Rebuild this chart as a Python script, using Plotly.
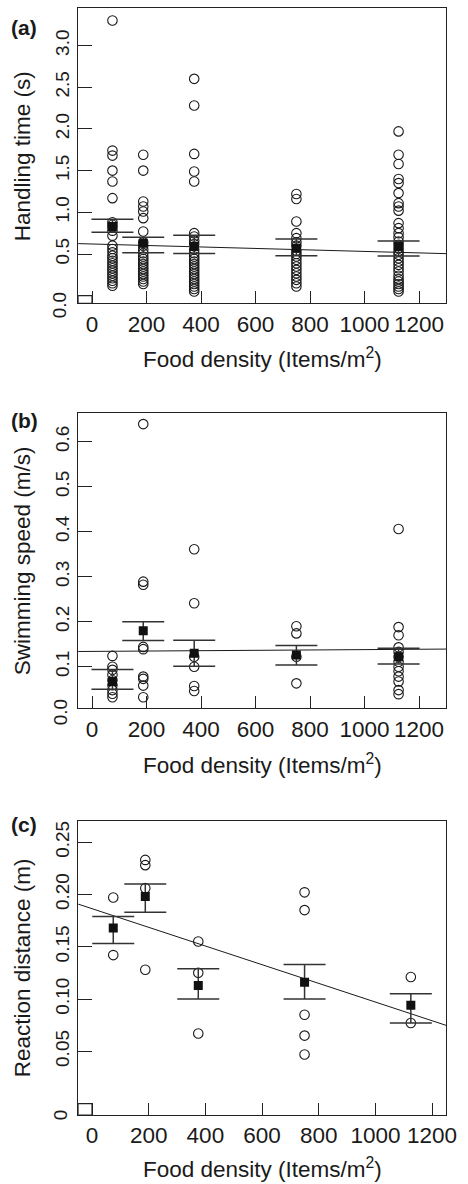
import plotly.graph_objects as go

# ---------------- data ----------------
densities = [75, 188, 375, 750, 1125]
tick_x = [0, 200, 400, 600, 800, 1000, 1200]

# (a) handling time (s)
ht_75 = [3.30, 1.74, 1.68, 1.50, 1.37, 1.17, 0.88, 0.85, 0.82, 0.78, 0.72, 0.60, 0.56, 0.52, 0.48,
         0.45, 0.42, 0.39, 0.36, 0.33, 0.30, 0.27, 0.24, 0.21, 0.18, 0.15, 0.12]
ht_188 = [1.69, 1.50, 1.13, 1.07, 1.01, 0.93, 0.77, 0.64, 0.60, 0.55, 0.51, 0.47, 0.44, 0.41, 0.38,
          0.35, 0.32, 0.29, 0.26, 0.23, 0.20, 0.17, 0.14]
ht_375 = [2.60, 2.28, 1.70, 1.49, 1.37, 0.75, 0.71, 0.66, 0.62, 0.55, 0.51, 0.47, 0.44, 0.41, 0.38,
          0.35, 0.32, 0.29, 0.26, 0.23, 0.20, 0.17, 0.14, 0.11, 0.08, 0.05]
ht_750 = [1.22, 1.16, 0.89, 0.75, 0.69, 0.64, 0.60, 0.54, 0.50, 0.47, 0.43, 0.39, 0.35, 0.31, 0.27,
          0.23, 0.19, 0.15, 0.11]
ht_1125 = [1.97, 1.69, 1.58, 1.40, 1.35, 1.23, 1.11, 1.07, 1.02, 0.87, 0.81, 0.75, 0.70, 0.65, 0.61,
           0.57, 0.53, 0.49, 0.45, 0.41, 0.37, 0.33, 0.29, 0.24, 0.20, 0.17, 0.14, 0.11, 0.08, 0.05]
ht_mean = [0.83, 0.63, 0.59, 0.57, 0.59]
ht_upper = [0.916, 0.70, 0.725, 0.68, 0.655]
ht_lower = [0.76, 0.515, 0.505, 0.48, 0.475]
ht_fit = [0.62, -0.000089]  # intercept, slope

# (b) swimming speed (m/s)
ss_75 = [0.124, 0.100, 0.093, 0.082, 0.070, 0.059, 0.048, 0.040, 0.032]
ss_188 = [0.639, 0.289, 0.282, 0.144, 0.139, 0.078, 0.073, 0.058, 0.032]
ss_375 = [0.361, 0.241, 0.122, 0.100, 0.057, 0.046]
ss_750 = [0.190, 0.174, 0.122, 0.063]
ss_1125 = [0.406, 0.188, 0.170, 0.143, 0.133, 0.122, 0.111, 0.100, 0.090, 0.078, 0.067, 0.048, 0.039]
ss_mean = [0.067, 0.180, 0.130, 0.126, 0.122]
ss_upper = [0.094, 0.200, 0.159, 0.147, 0.141]
ss_lower = [0.050, 0.158, 0.101, 0.104, 0.106]
ss_fit = [0.134, 0.000004]

# (c) reaction distance (m)
rd_75 = [0.197, 0.142]
rd_188 = [0.233, 0.228, 0.206, 0.128]
rd_375 = [0.155, 0.125, 0.067]
rd_750 = [0.202, 0.185, 0.085, 0.065, 0.047]
rd_1125 = [0.121, 0.077]
rd_mean = [0.168, 0.198, 0.113, 0.116, 0.094]
rd_upper = [0.179, 0.210, 0.129, 0.133, 0.105]
rd_lower = [0.153, 0.183, 0.100, 0.100, 0.077]
rd_fit = [0.1864, -0.0000893]

# ---------------- layout constants ----------------
W, H = 468, 1184
FONT = "Liberation Sans, Arial, Helvetica, sans-serif"
INK = "#1a1a1a"
X_LEFT, X_RIGHT = 80, 457

panels = [
    dict(groups=[ht_75, ht_188, ht_375, ht_750, ht_1125], mean=ht_mean, up=ht_upper, lo=ht_lower,
         fit=ht_fit, xr=[-51, 1300], yr=[-0.091, 3.446], yt=[0.5, 1.0, 1.5, 2.0, 2.5, 3.0], fmt=".1f",
         top=8.3, bot=303.3, label="(a)", label_y=27, ytitle="Handling time (s)",
         zero="0.0", zero_y=305, xtitle_bottom=373, box=True),
    dict(groups=[ss_75, ss_188, ss_375, ss_750, ss_1125], mean=ss_mean, up=ss_upper, lo=ss_lower,
         fit=ss_fit, xr=[-51, 1300], yr=[0.0076, 0.663], yt=[0.1, 0.2, 0.3, 0.4, 0.5, 0.6], fmt=".1f",
         top=413.3, bot=708.3, label="(b)", label_y=420, ytitle="Swimming speed (m/s)",
         zero="0.0", zero_y=712, xtitle_bottom=779, box=False),
    dict(groups=[rd_75, rd_188, rd_375, rd_750, rd_1125], mean=rd_mean, up=rd_upper, lo=rd_lower,
         fit=rd_fit, xr=[-49, 1250], yr=[-0.0109, 0.2705], yt=[0.05, 0.10, 0.15, 0.20, 0.25], fmt=".2f",
         top=820.7, bot=1115, label="(c)", label_y=824, ytitle="Reaction distance (m)",
         zero="0", zero_y=1115, xtitle_bottom=1183, box=True),
]

fig = go.Figure()
annotations = []
shapes = []

for i, p in enumerate(panels):
    n = "" if i == 0 else str(i + 1)
    xa, ya = "x" + n, "y" + n
    # raw points
    xs, ys = [], []
    for d, g in zip(densities, p["groups"]):
        xs += [d] * len(g)
        ys += g
    fig.add_trace(go.Scatter(x=xs, y=ys, mode="markers", xaxis=xa, yaxis=ya, showlegend=False,
                             marker=dict(symbol="circle-open", size=9.5, color=INK,
                                         line=dict(width=1.1, color=INK))))
    # regression line
    lx = p["xr"]
    ly = [p["fit"][0] + p["fit"][1] * v for v in lx]
    fig.add_trace(go.Scatter(x=lx, y=ly, mode="lines", xaxis=xa, yaxis=ya, showlegend=False,
                             line=dict(color=INK, width=1)))
    # means with error bars
    fig.add_trace(go.Scatter(
        x=densities, y=p["mean"], mode="markers", xaxis=xa, yaxis=ya, showlegend=False,
        marker=dict(symbol="square", size=9, color="#111111"),
        error_y=dict(type="data", symmetric=False,
                     array=[u - m for u, m in zip(p["up"], p["mean"])],
                     arrayminus=[m - l for m, l in zip(p["mean"], p["lo"])],
                     color="#333333", thickness=1.5, width=21)))

    dom_y = [1 - p["bot"] / H, 1 - p["top"] / H]
    axis_common = dict(showline=True, mirror=True, linecolor="#222222", linewidth=1.4,
                       ticks="inside", tickcolor="#222222", tickwidth=1.2, showgrid=False,
                       zeroline=False, tickfont=dict(family=FONT, size=22.5, color=INK))
    fig.layout["xaxis" + n] = dict(axis_common, domain=[X_LEFT / W, X_RIGHT / W], range=p["xr"],
                                   anchor=ya, tickmode="array", tickvals=tick_x, ticklen=12)
    fig.layout["yaxis" + n] = dict(axis_common, domain=dom_y, range=p["yr"], anchor=xa,
                                   tickmode="array", tickvals=p["yt"], tickformat=p["fmt"],
                                   ticklen=14, tickangle=-90,
                                   tickfont=dict(family=FONT, size=19, color=INK))
    if p["box"]:
        shapes.append(dict(type="rect", xref=xa, yref=ya, x0=p["xr"][0], x1=0, y0=p["yr"][0], y1=0,
                           line=dict(color="#222222", width=1.2), fillcolor="rgba(0,0,0,0)"))
    # zero tick label
    annotations.append(dict(text=p["zero"], xref="paper", yref="paper", x=61.7 / W, y=1 - p["zero_y"] / H,
                            xanchor="center", yanchor="middle", showarrow=False, textangle=-90,
                            font=dict(family=FONT, size=19, color=INK)))
    # panel label
    annotations.append(dict(text="<b>" + p["label"] + "</b>", xref="paper", yref="paper", x=25 / W,
                            y=1 - p["label_y"] / H, xanchor="center", yanchor="middle", showarrow=False,
                            font=dict(family=FONT, size=21, color=INK)))
    # y title
    annotations.append(dict(text=p["ytitle"], xref="paper", yref="paper", x=23 / W,
                            y=1 - (p["top"] + p["bot"]) / 2 / H, xanchor="center", yanchor="middle",
                            showarrow=False, textangle=-90, font=dict(family=FONT, size=22.5, color=INK)))
    # x title
    annotations.append(dict(text="Food density (Items/m<sup>2</sup>)", xref="paper", yref="paper",
                            x=(X_LEFT + X_RIGHT) / 2 / W, y=1 - p["xtitle_bottom"] / H, xanchor="center",
                            yanchor="bottom", showarrow=False, borderpad=0,
                            font=dict(family=FONT, size=22.5, color=INK)))

fig.update_layout(width=W, height=H, margin=dict(l=0, r=0, t=0, b=0), paper_bgcolor="white",
                  plot_bgcolor="white", annotations=annotations, shapes=shapes, showlegend=False)

fig.write_html("out.html")
